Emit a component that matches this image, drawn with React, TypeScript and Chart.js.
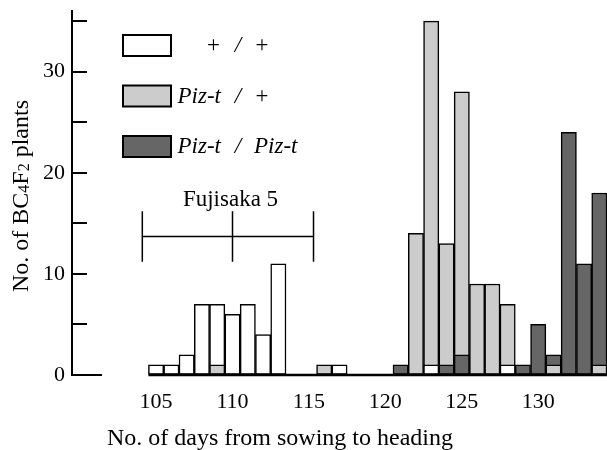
import React, { useEffect, useRef } from 'react';
import { Chart, registerables } from 'chart.js';

Chart.register(...registerables);

// ---- data ----
const days = [105, 106, 107, 108, 109, 110, 111, 112, 113, 114, 115, 116, 117, 118, 119, 120, 121, 122, 123, 124, 125, 126, 127, 128, 129, 130, 131, 132, 133, 134];
const plusPlus = [1, 1, 2, 7, 7, 6, 7, 4, 11, 0, 0, 0, 1, 0, 0, 0, 0, 0, 1, 0, 0, 0, 0, 1, 0, 0, 0, 0, 0, 0];
const pizPlus = [0, 0, 0, 0, 1, 0, 0, 0, 0, 0, 0, 1, 0, 0, 0, 0, 0, 14, 35, 13, 28, 9, 9, 7, 0, 0, 1, 0, 0, 1];
const pizPiz = [0, 0, 0, 0, 0, 0, 0, 0, 0, 0, 0, 0, 0, 0, 0, 0, 1, 0, 0, 1, 2, 0, 0, 0, 1, 5, 2, 24, 11, 18];

const genotypeNames = ['+ / +', 'Piz-t / +', 'Piz-t / Piz-t'];
const legendLeft = ['+', 'Piz-t', 'Piz-t'];
const legendRight = ['+', '+', 'Piz-t'];
const genotypeColors = ['#ffffff', '#cccccc', '#666666'];

const xTickValues = [105, 110, 115, 120, 125, 130];
const yTickValues = [0, 5, 10, 15, 20, 25, 30, 35];
const yLabeledTicks = [0, 10, 20, 30];

const xTitle = 'No. of days from sowing to heading';
const yTitleParts = [
  { text: 'No. of BC', sub: false },
  { text: '4', sub: true },
  { text: 'F', sub: false },
  { text: '2', sub: true },
  { text: ' plants', sub: false },
];

const fujisakaLabel = 'Fujisaka 5';
const fujisakaMean = 110;
const fujisakaLow = 104.1;
const fujisakaHigh = 115.3;
const fujisakaLevel = 13.7;
const fujisakaWhisker = 2.5;

const SERIF = '"Liberation Serif", "Times New Roman", serif';

const allSeries = [plusPlus, pizPlus, pizPiz];

function buildDatasets() {
  const front: any[] = [];
  const back: any[] = [];
  allSeries.forEach((series, g) => {
    const isMax = (i: number) => allSeries.every((s, k) => k === g || s[i] <= series[i] && !(s[i] === series[i] && k < g));
    const common = {
      backgroundColor: genotypeColors[g],
      borderColor: '#000000',
      borderWidth: 1.5,
      borderSkipped: false as const,
      barPercentage: 1,
      categoryPercentage: 1,
      grouped: false,
    };
    front.push({
      ...common,
      label: genotypeNames[g] + ' (front)',
      order: 0,
      data: days.map((d, i) => ({ x: d, y: series[i] > 0 && !isMax(i) ? series[i] : null })),
    });
    back.push({
      ...common,
      label: genotypeNames[g],
      order: 1,
      data: days.map((d, i) => ({ x: d, y: series[i] > 0 && isMax(i) ? series[i] : null })),
    });
  });
  return [...front, ...back];
}

const decorPlugin = {
  id: 'decor',
  afterDatasetsDraw(chart: any) {
    const { ctx, scales } = chart;
    const x = scales.x;
    const y = scales.y;
    const ax = chart.chartArea.left;
    ctx.save();
    ctx.strokeStyle = '#000';
    ctx.fillStyle = '#000';

    // inner y ticks
    ctx.lineWidth = 2;
    yTickValues.forEach((v) => {
      const py = Math.round(y.getPixelForValue(v));
      ctx.beginPath();
      ctx.moveTo(ax, py);
      ctx.lineTo(ax + (v === 0 ? 30 : 15), py);
      ctx.stroke();
    });

    // baseline under bars
    const y0 = Math.round(y.getPixelForValue(0));
    ctx.lineWidth = 2.5;
    ctx.beginPath();
    ctx.moveTo(x.getPixelForValue(days[0] - 0.5), y0);
    ctx.lineTo(x.getPixelForValue(days[days.length - 1] + 0.5), y0);
    ctx.stroke();

    // Fujisaka 5 range marker
    const fy = y.getPixelForValue(fujisakaLevel);
    const fTop = y.getPixelForValue(fujisakaLevel + fujisakaWhisker);
    const fBot = y.getPixelForValue(fujisakaLevel - fujisakaWhisker);
    const fl = x.getPixelForValue(fujisakaLow);
    const fm = x.getPixelForValue(fujisakaMean);
    const fh = x.getPixelForValue(fujisakaHigh);
    ctx.lineWidth = 1.5;
    ctx.beginPath();
    ctx.moveTo(fl, fy);
    ctx.lineTo(fh, fy);
    [fl, fm, fh].forEach((px) => {
      ctx.moveTo(px, fTop);
      ctx.lineTo(px, fBot);
    });
    ctx.stroke();
    ctx.font = '23px ' + SERIF;
    ctx.textAlign = 'center';
    ctx.textBaseline = 'alphabetic';
    ctx.fillText(fujisakaLabel, fm - 2, fTop - 5);

    // legend
    const boxX = 123;
    const boxW = 48;
    const boxH = 21;
    const rowTop = 35;
    const rowGap = 50.5;
    genotypeColors.forEach((c, g) => {
      const top = rowTop + g * rowGap;
      ctx.fillStyle = c;
      ctx.fillRect(boxX, top, boxW, boxH);
      ctx.lineWidth = 2;
      ctx.strokeStyle = '#000';
      ctx.strokeRect(boxX, top, boxW, boxH);
      ctx.fillStyle = '#000';
      ctx.font = 'italic 23px ' + SERIF;
      const base = top + boxH - 4;
      ctx.textAlign = 'right';
      ctx.fillText(legendLeft[g], 221, base);
      ctx.textAlign = 'center';
      ctx.fillText('/', 238, base);
      ctx.textAlign = 'left';
      ctx.fillText(legendRight[g], 254, base);
    });

    // x title
    ctx.fillStyle = '#000';
    ctx.font = '24px ' + SERIF;
    ctx.textAlign = 'center';
    ctx.fillText(xTitle, 280, 445);

    // y title with subscripts
    ctx.save();
    ctx.translate(28, 196);
    ctx.rotate(-Math.PI / 2);
    const bigFont = '24px ' + SERIF;
    const smallFont = '16px ' + SERIF;
    let total = 0;
    yTitleParts.forEach((p) => {
      ctx.font = p.sub ? smallFont : bigFont;
      total += ctx.measureText(p.text).width;
    });
    let cx = -total / 2;
    ctx.textAlign = 'left';
    yTitleParts.forEach((p) => {
      ctx.font = p.sub ? smallFont : bigFont;
      ctx.fillText(p.text, cx, p.sub ? 1 : 0);
      cx += ctx.measureText(p.text).width;
    });
    ctx.restore();

    ctx.restore();
  },
};

export default function App() {
  const ref = useRef<HTMLCanvasElement | null>(null);
  useEffect(() => {
    if (!ref.current) return;
    const chart = new Chart(ref.current, {
      type: 'bar',
      data: { datasets: buildDatasets() },
      options: {
        animation: false,
        responsive: false,
        maintainAspectRatio: false,
        layout: { padding: { top: 11, left: 0, right: 0, bottom: 0 } },
        plugins: { legend: { display: false }, tooltip: { enabled: false } },
        scales: {
          x: {
            type: 'linear',
            offset: false,
            min: 99.5,
            max: 134.5,
            afterBuildTicks: (s: any) => {
              s.ticks = xTickValues.map((v) => ({ value: v }));
            },
            afterFit: (s: any) => {
              s.height = 75;
              s.paddingLeft = 0;
              s.paddingRight = 0;
            },
            grid: { display: true, offset: false, drawOnChartArea: false, drawTicks: false },
            border: { display: false },
            ticks: {
              color: '#000',
              font: { family: SERIF, size: 22 },
              padding: 14,
              maxRotation: 0,
              autoSkip: false,
            },
          },
          y: {
            min: 0,
            max: 36,
            afterBuildTicks: (s: any) => {
              s.ticks = yTickValues.map((v) => ({ value: v }));
            },
            afterFit: (s: any) => {
              s.width = 72;
              s.paddingTop = 0;
              s.paddingBottom = 0;
            },
            grid: { display: true, drawOnChartArea: false, drawTicks: false },
            border: { display: true, color: '#000', width: 2 },
            ticks: {
              color: '#000',
              font: { family: SERIF, size: 22 },
              padding: 7,
              autoSkip: false,
              callback: (v: any) => (yLabeledTicks.includes(Number(v)) ? String(v) : ''),
            },
          },
        },
      },
      plugins: [decorPlugin],
    } as any);
    return () => chart.destroy();
  }, []);
  return (
    <div style={{ position: 'fixed', left: 0, top: 0, width: 607, height: 450, background: '#fff' }}>
      <canvas ref={ref} width={607} height={450} style={{ display: 'block' }} />
    </div>
  );
}
